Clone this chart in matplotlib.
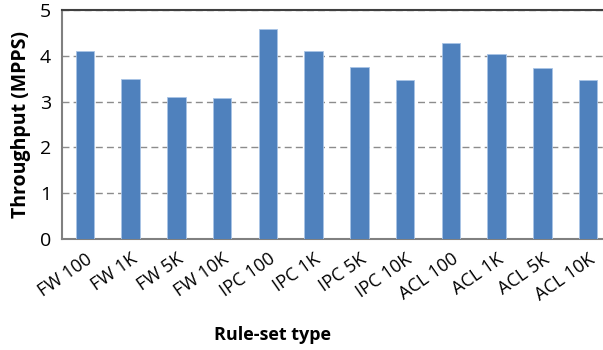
import matplotlib.pyplot as plt

categories = ["FW 100", "FW 1K", "FW 5K", "FW 10K",
              "IPC 100", "IPC 1K", "IPC 5K", "IPC 10K",
              "ACL 100", "ACL 1K", "ACL 5K", "ACL 10K"]
throughput = [4.10, 3.49, 3.09, 3.07, 4.59, 4.10, 3.76, 3.47, 4.28, 4.03, 3.73, 3.47]
y_ticks = [0, 1, 2, 3, 4, 5]

plt.rcParams["font.family"] = ["Open Sans", "DejaVu Sans"]

fig = plt.figure(figsize=(6.03, 3.5), dpi=100)
# axes runs slightly past the right edge, as in the original
ax = fig.add_axes([62 / 603, 1 - 239 / 350, 549 / 603, 229 / 350])

x = list(range(len(categories)))
ax.bar(x, throughput, width=0.4, color="#4F81BD", edgecolor="#A9C4E6", linewidth=0.6, zorder=3)

ax.set_xlim(-0.5, len(categories) - 0.5)
ax.set_ylim(0, 5)
ax.set_yticks(y_ticks)
ax.set_yticklabels([str(t) for t in y_ticks], fontsize=14)
ax.set_xticks(x)
ax.set_xticklabels(categories, rotation=35, ha="right", rotation_mode="anchor", fontsize=13)
ax.tick_params(axis="y", length=0, pad=8)
ax.tick_params(axis="x", length=0, pad=8)

ax.grid(axis="y", linestyle=(0, (5, 3)), color="#8C8C8C", linewidth=1.0, zorder=0)

ax.spines["right"].set_visible(False)
ax.spines["top"].set_color("#404040")
ax.spines["top"].set_linewidth(1.5)
ax.spines["left"].set_color("#808080")
ax.spines["left"].set_linewidth(1.5)
ax.spines["bottom"].set_color("#808080")
ax.spines["bottom"].set_linewidth(1.5)

ax.set_ylabel("Throughput (MPPS)", fontsize=14, fontweight="bold", labelpad=6)
ax.set_xlabel("Rule-set type", fontsize=13, fontweight="bold")
ax.xaxis.set_label_coords(211 / 549, -0.38)

fig.savefig("out.png", dpi=100)
